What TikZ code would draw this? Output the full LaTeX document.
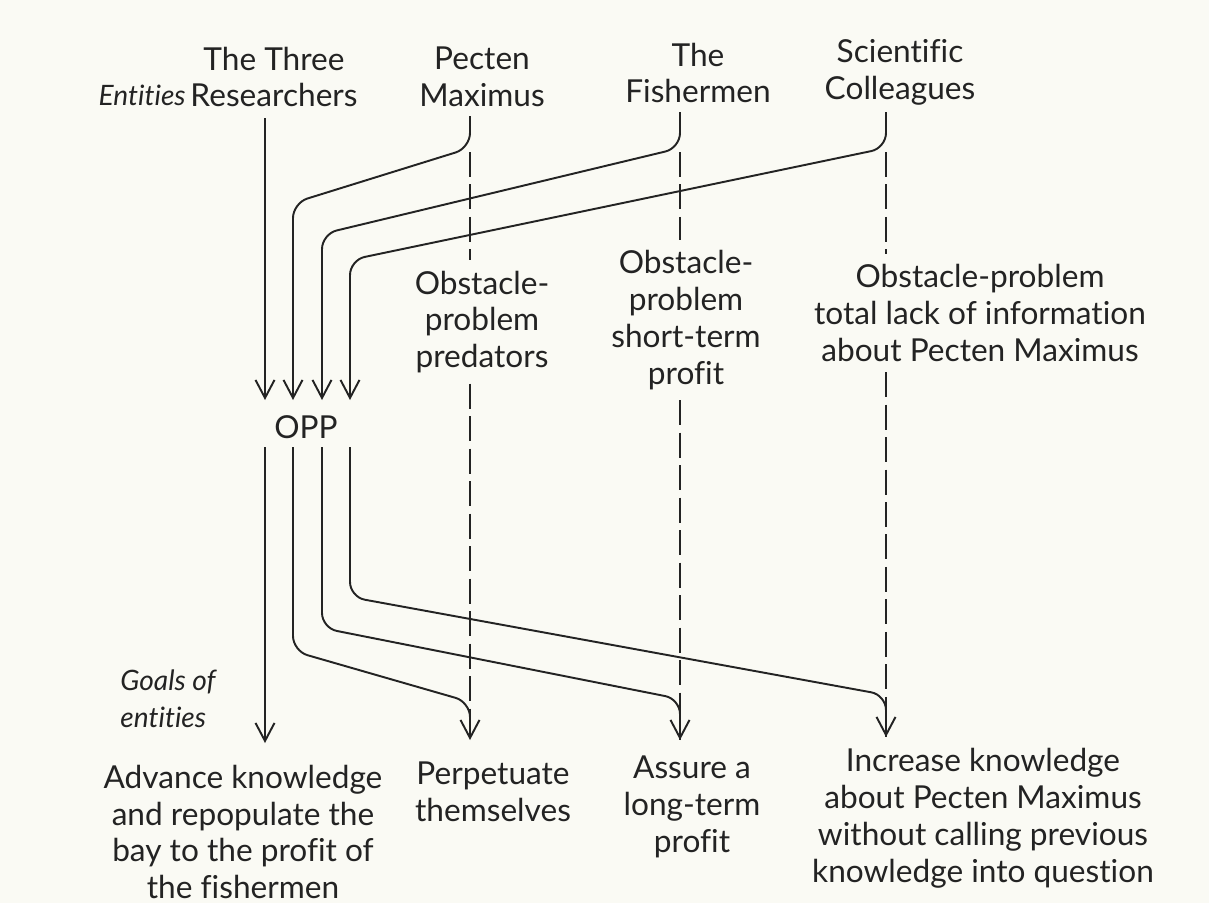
\documentclass[tikz,border=0pt]{standalone}
\usepackage{fontspec}
\setmainfont{Lato}[Ligatures = NoCommon]
\usetikzlibrary{arrows.meta}
\definecolor{ink}{RGB}{35,35,35}
\definecolor{paper}{RGB}{250,250,244}
\tikzset{
	entity text/.style = {align = center, font = \fontsize{18}{21}\selectfont, text = ink, inner sep = 0pt},
	side text/.style = {align = left, font = \fontsize{16}{21}\selectfont\itshape, text = ink, inner sep = 0pt},
	obstacle text/.style = {entity text, inner sep = 0.2cm},
	link/.style = {draw = ink, line width = 1.1pt, rounded corners = 0.3cm},
	goal arrow/.style = {link, -{Straight Barb[length = 0.36cm, width = 0.38cm]}},
	obstacle/.style = {draw = ink, line width = 1.1pt, dash pattern = on 0.5cm off 0.15cm}
}
\begin{document}
\begin{tikzpicture}[x = 0.02cm, y = -0.02cm]
	\fill[paper] (0,0) rectangle (1209,903);
	\node[side text, anchor = east] (entities) at (186,95) {Entities};
	\node[entity text] (researchers) at (274,77) {The Three\\Researchers};
	\node[entity text] (pecten) at (482,77) {Pecten\\Maximus};
	\node[entity text] (fishermen) at (698,73) {The\\Fishermen};
	\node[entity text] (colleagues) at (900,72) {Scientific\\Colleagues};
	\node[entity text] (opp) at (306,427) {OPP};
	\node[obstacle text] (obstP) at (482,322) {Obstacle-\\problem\\predators};
	\node[obstacle text] (obstF) at (686,320) {Obstacle-\\problem\\short-term\\profit};
	\node[obstacle text] (obstC) at (980,313) {Obstacle-problem\\total lack of information\\about Pecten Maximus};
	\node[side text, anchor = west] (goals) at (120,699) {Goals of\\entities};
	\node[entity text] (goalR) at (243,832) {Advance knowledge\\and repopulate the\\bay to the profit of\\the fishermen};
	\node[entity text] (goalP) at (493,792) {Perpetuate\\themselves};
	\node[entity text] (goalF) at (692,807) {Assure a\\long-term\\profit};
	\node[entity text] (goalC) at (983,818) {Increase knowledge\\about Pecten Maximus\\without calling previous\\knowledge into question};
	\coordinate (topR) at (265,118);
	\coordinate (topP) at (470,116);
	\coordinate (topF) at (680,112);
	\coordinate (topC) at (886,112);
	\coordinate (inR) at (265,400);
	\coordinate (inP) at (293,400);
	\coordinate (inF) at (322,400);
	\coordinate (inC) at (350,400);
	\coordinate (outR) at (265,447);
	\coordinate (outP) at (293,447);
	\coordinate (outF) at (322,447);
	\coordinate (outC) at (350,447);
	\coordinate (tipR) at (265,743);
	\coordinate (tipP) at (470,740);
	\coordinate (tipF) at (680,740);
	\coordinate (tipC) at (886,737);
	\draw[goal arrow] (topR) -- (inR);
	\draw[goal arrow] (topP) -- (470,148) -- (293,203) -- (inP);
	\draw[goal arrow] (topF) -- (680,148) -- (322,234) -- (inF);
	\draw[goal arrow] (topC) -- (886,148) -- (350,260) -- (inC);
	\draw[goal arrow] (outR) -- (tipR);
	\draw[goal arrow] (outP) -- (293,651) -- (470,702) -- (tipP);
	\draw[goal arrow] (outF) -- (322,628) -- (680,699) -- (tipF);
	\draw[goal arrow] (outC) -- (350,597) -- (886,695) -- (tipC);
	\draw[obstacle] (470,152) -- (obstP.north -| topP);
	\draw[obstacle] (obstP.south -| topP) -- (tipP);
	\draw[obstacle] (680,152) -- (obstF.north -| topF);
	\draw[obstacle] (obstF.south -| topF) -- (tipF);
	\draw[obstacle] (886,152) -- (obstC.north -| topC);
	\draw[obstacle] (obstC.south -| topC) -- (tipC);
\end{tikzpicture}
\end{document}
